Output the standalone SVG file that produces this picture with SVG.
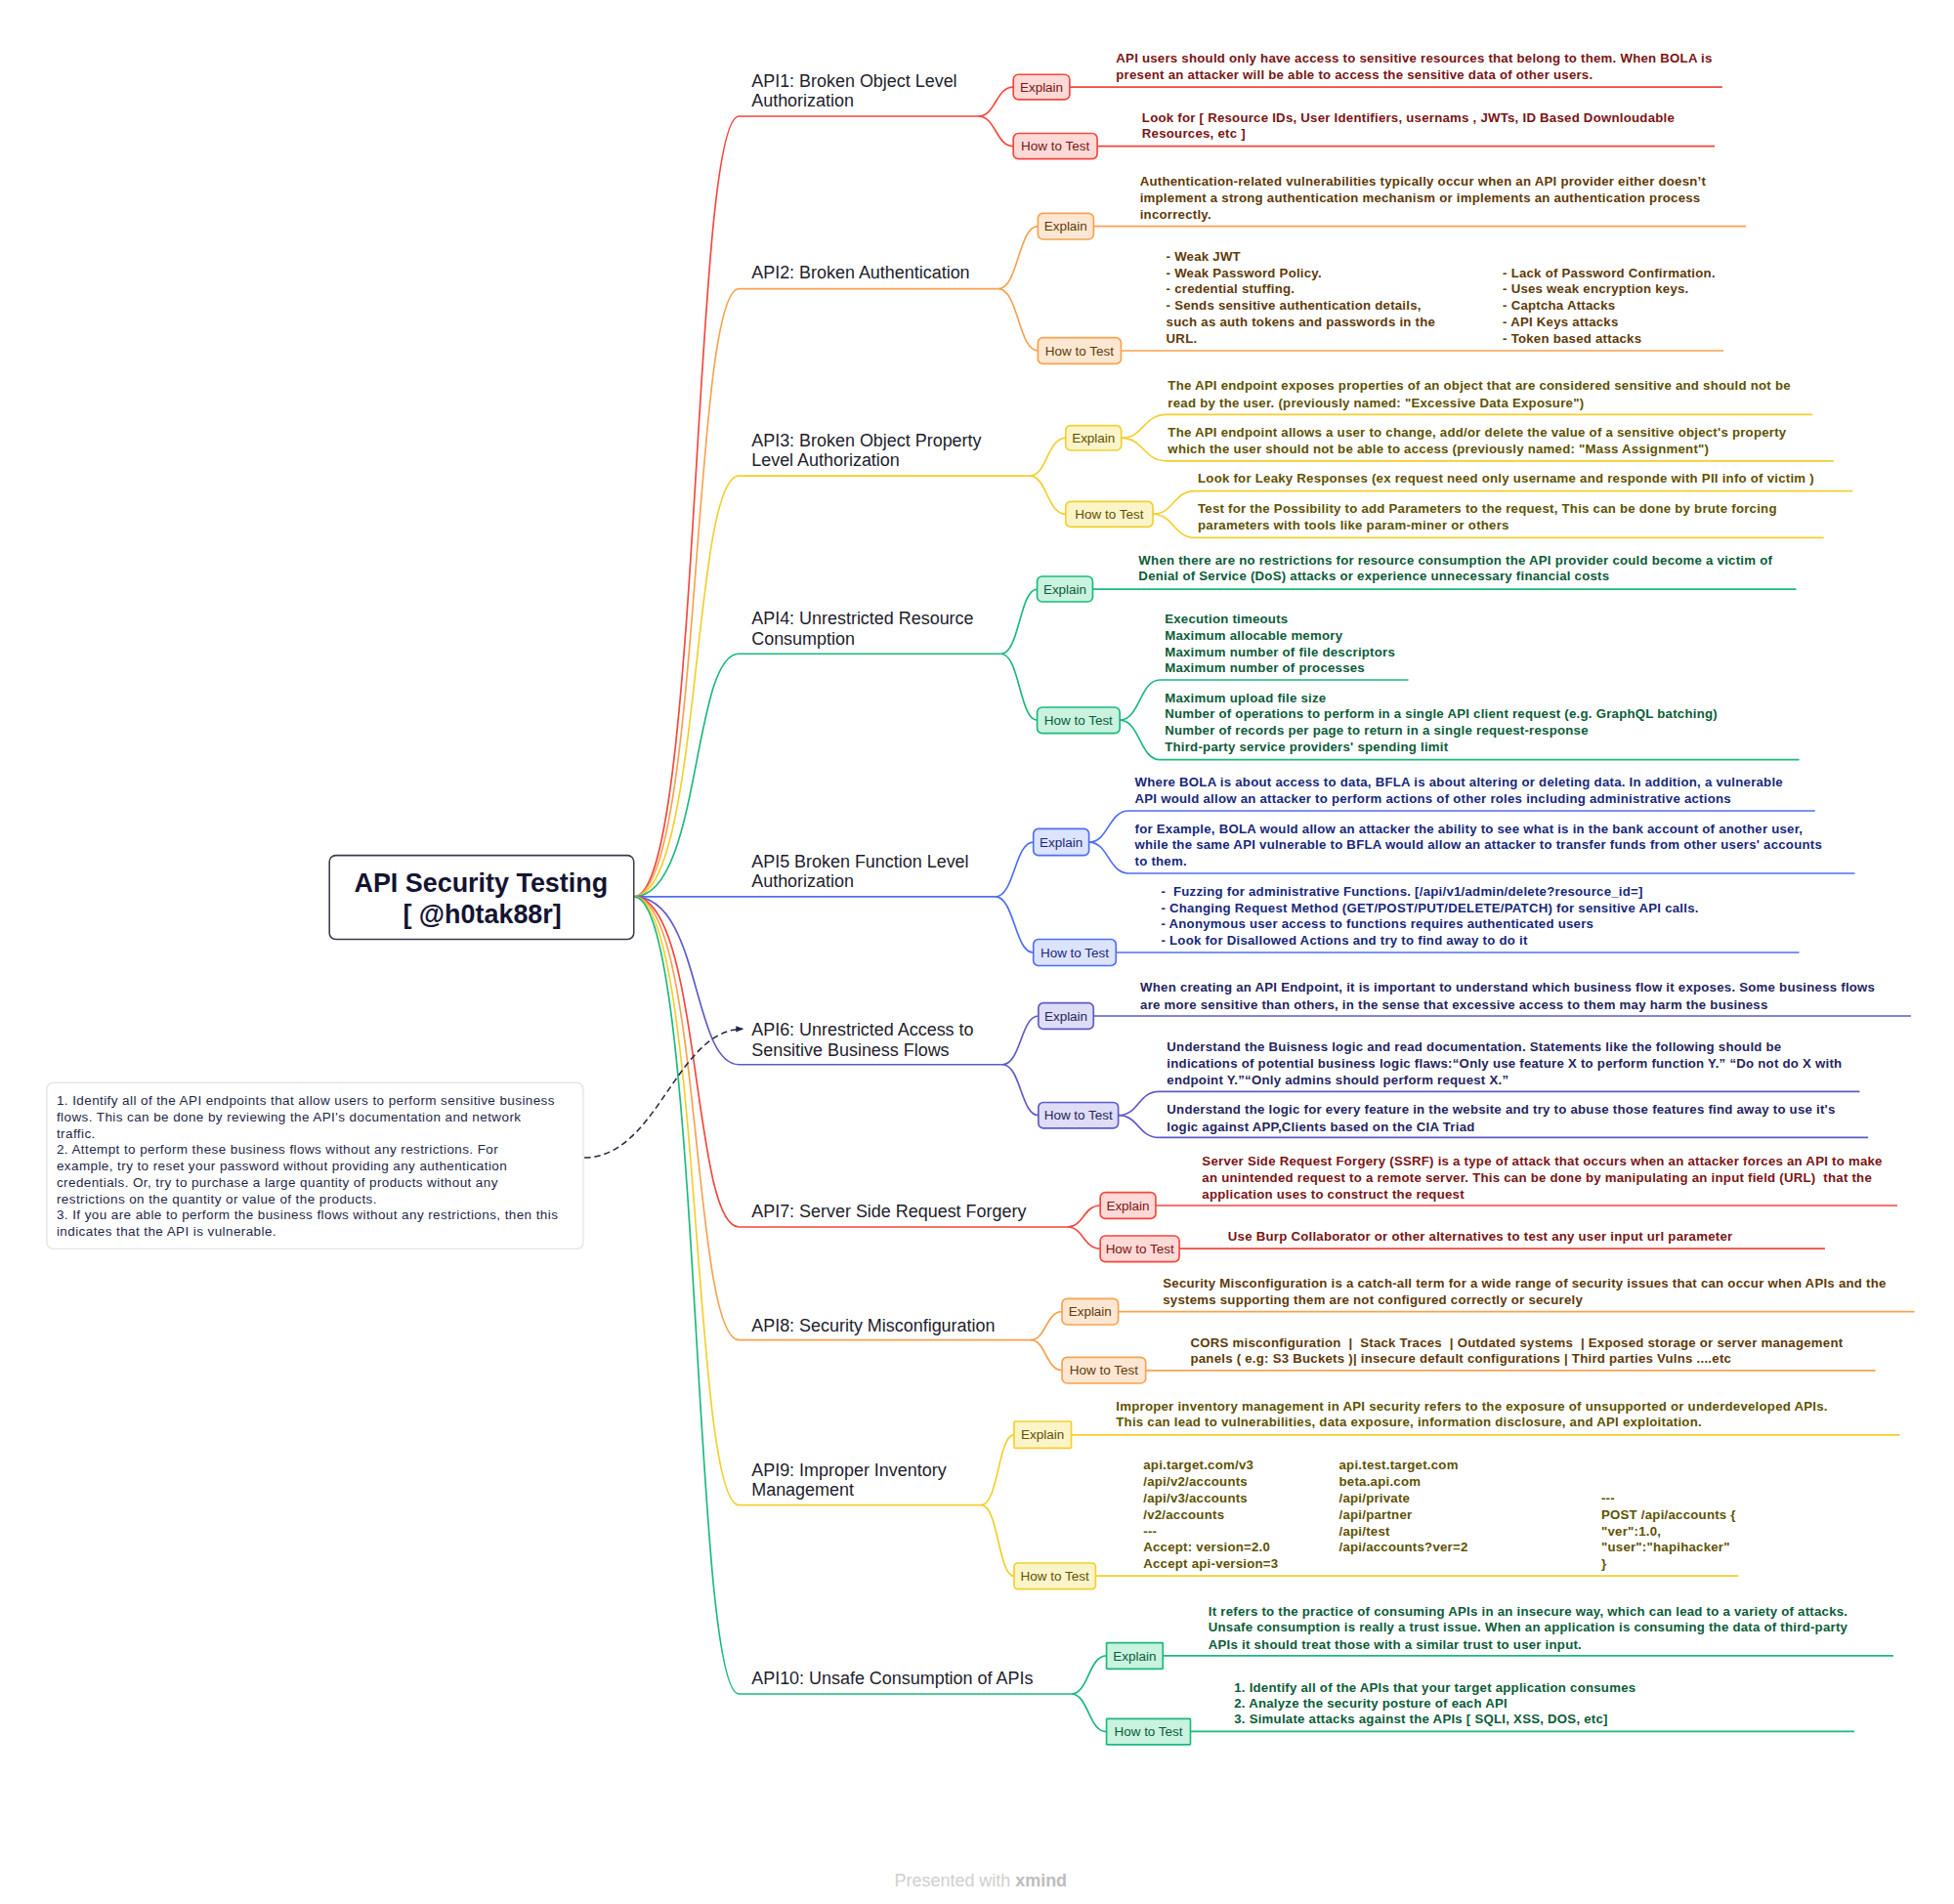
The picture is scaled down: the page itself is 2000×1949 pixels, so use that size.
<svg xmlns="http://www.w3.org/2000/svg" width="2000" height="1949" viewBox="0 0 2000 1949">
<style>
text{font-family:"Liberation Sans",Arial,sans-serif}
.ti{font-size:14px;fill:#1d1d2b}
.d{font-size:10.3px;font-weight:bold;letter-spacing:0.2px}
.nt{font-size:10.5px;fill:#1e2746;letter-spacing:0.33px}
.lb{font-size:10.5px;text-anchor:middle}
.ln{fill:none;stroke-width:1.3}
.bx{stroke-width:1.3}
.r{stroke:#F4473D}.o{stroke:#F7A24F}.y{stroke:#F3CF2C}.g{stroke:#1BB97C}.b{stroke:#4D6EF2}.v{stroke:#5D5BC9}
.rf{fill:#FFD9D6}.of{fill:#FEE7D2}.yf{fill:#FCF4C9}.gf{fill:#C9F2DF}.bf{fill:#DCE3FC}.vf{fill:#DEDDF5}
.rt{fill:#7A1414}.ot{fill:#5E3A08}.yt{fill:#5E5200}.gt{fill:#0B5C38}.bt{fill:#17287A}.vt{fill:#25255C}
</style>
<defs>
<marker id="arr" viewBox="0 0 10 10" refX="9" refY="5" markerWidth="6" markerHeight="6" orient="auto" markerUnits="userSpaceOnUse">
<path d="M0,1 L10,5 L0,9 z" fill="#1e2746"/>
</marker>
</defs>
<rect width="2000" height="1949" fill="#ffffff"/>
<g transform="scale(1.28205)">
<g id="connectors">
<path class="ln r" d="M506 716 C560 716 552 92.8 590 92.8 L781 92.8"/>
<path class="ln o" d="M506 716 C560 716 552 230.6 590 230.6 L797 230.6"/>
<path class="ln y" d="M506 716 C560 716 552 380 590 380 L822 380"/>
<path class="ln g" d="M506 716 C560 716 552 522 590 522 L799.2 522"/>
<path class="ln b" d="M506 716 L794.5 716"/>
<path class="ln v" d="M506 716 C560 716 552 850 590 850 L800.3 850"/>
<path class="ln r" d="M506 716 C560 716 552 979.7 590 979.7 L852.2 979.7"/>
<path class="ln o" d="M506 716 C560 716 552 1069.9 590 1069.9 L822.9 1069.9"/>
<path class="ln y" d="M506 716 C560 716 552 1201.7 590 1201.7 L783.4 1201.7"/>
<path class="ln g" d="M506 716 C560 716 552 1352.5 590 1352.5 L855.3 1352.5"/>

<path class="ln r" d="M781 92.8 C795 92.8 795 69.5 809 69.5"/>
<path class="ln r" d="M781 92.8 C795 92.8 795 116.7 809 116.7"/>
<path class="ln r" d="M854 69.5 L1375 69.5"/>
<path class="ln r" d="M876 116.7 L1369 116.7"/>

<path class="ln o" d="M797 230.6 C813 230.6 813 180.7 828.6 180.7"/>
<path class="ln o" d="M797 230.6 C813 230.6 813 280 828.6 280"/>
<path class="ln o" d="M873 180.7 L1394 180.7"/>
<path class="ln o" d="M895 280 L1376 280"/>

<path class="ln y" d="M822 380 C836 380 836 349.7 850.8 349.7"/>
<path class="ln y" d="M822 380 C836 380 836 410.5 850.8 410.5"/>
<path class="ln y" d="M895.2 349.7 C913 349.7 913 331 931 331 L1447 331"/>
<path class="ln y" d="M895.2 349.7 C913 349.7 913 368 931 368 L1464 368"/>
<path class="ln y" d="M920.4 410.5 C937 410.5 937 392 954 392 L1479 392"/>
<path class="ln y" d="M920.4 410.5 C937 410.5 937 429.3 954 429.3 L1456 429.3"/>

<path class="ln g" d="M799.2 522 C814 522 814 470.4 828 470.4"/>
<path class="ln g" d="M799.2 522 C814 522 814 575 828 575"/>
<path class="ln g" d="M872.4 470.4 L1434 470.4"/>
<path class="ln g" d="M894 575 C910 575 910 542.9 926 542.9 L1124.4 542.9"/>
<path class="ln g" d="M894 575 C910 575 910 606.6 926 606.6 L1436.4 606.6"/>

<path class="ln b" d="M794.5 716 C810 716 810 672.4 825 672.4"/>
<path class="ln b" d="M794.5 716 C810 716 810 760.5 825 760.5"/>
<path class="ln b" d="M869.4 672.4 C885 672.4 885 647.4 901 647.4 L1449 647.4"/>
<path class="ln b" d="M869.4 672.4 C885 672.4 885 697.3 901 697.3 L1480.8 697.3"/>
<path class="ln b" d="M891 760.5 L1436.4 760.5"/>

<path class="ln v" d="M800.3 850 C815 850 815 811.2 829 811.2"/>
<path class="ln v" d="M800.3 850 C815 850 815 890.5 829 890.5"/>
<path class="ln v" d="M873 811.2 L1525.7 811.2"/>
<path class="ln v" d="M892.8 890.5 C909 890.5 909 871.5 925 871.5 L1484.7 871.5"/>
<path class="ln v" d="M892.8 890.5 C909 890.5 909 908.2 925 908.2 L1491.5 908.2"/>

<path class="ln r" d="M852.2 979.7 C865 979.7 865 962.5 878.4 962.5"/>
<path class="ln r" d="M852.2 979.7 C865 979.7 865 997 878.4 997"/>
<path class="ln r" d="M922.7 962.5 L1514.8 962.5"/>
<path class="ln r" d="M941.5 997 L1457 997"/>

<path class="ln o" d="M822.9 1069.9 C835 1069.9 835 1047.3 847.9 1047.3"/>
<path class="ln o" d="M822.9 1069.9 C835 1069.9 835 1094 847.9 1094"/>
<path class="ln o" d="M892.8 1047.3 L1528.4 1047.3"/>
<path class="ln o" d="M914.7 1094.3 L1497.2 1094.3"/>

<path class="ln y" d="M783.4 1201.7 C797 1201.7 797 1145.5 809.6 1145.5"/>
<path class="ln y" d="M783.4 1201.7 C797 1201.7 797 1258.4 809.6 1258.4"/>
<path class="ln y" d="M855.3 1145.7 L1516.6 1145.7"/>
<path class="ln y" d="M874.7 1258.2 L1387.9 1258.2"/>

<path class="ln g" d="M855.3 1352.5 C869 1352.5 869 1322 883.4 1322"/>
<path class="ln g" d="M855.3 1352.5 C869 1352.5 869 1382.6 883.4 1382.6"/>
<path class="ln g" d="M928.4 1322 L1511.6 1322"/>
<path class="ln g" d="M950.4 1382.5 L1480.5 1382.5"/>

<path d="M466.5 924.3 C525 924.3 540 821.6 593 821.6" fill="none" stroke="#1e2746" stroke-width="1.2" stroke-dasharray="5 3" marker-end="url(#arr)"/>
</g>

<g id="root">
<rect x="263" y="683" width="243" height="67" rx="5" fill="#ffffff" stroke="#3a3a4e" stroke-width="1.2"/>
<text x="384" y="712" font-size="21" font-weight="bold" fill="#141432" text-anchor="middle">API Security Testing</text>
<text x="385" y="737.5" font-size="21" font-weight="bold" fill="#141432" text-anchor="middle">[ @h0tak88r]</text>
</g>

<g id="note">
<rect x="37.4" y="864.5" width="428.2" height="132.6" rx="5" fill="#ffffff" stroke="#e3e3e6" stroke-width="1"/>
<text class="nt" x="45.2" y="882.3">
<tspan x="45.2">1. Identify all of the API endpoints that allow users to perform sensitive business</tspan>
<tspan x="45.2" dy="13.05">flows. This can be done by reviewing the API's documentation and network</tspan>
<tspan x="45.2" dy="13.05">traffic.</tspan>
<tspan x="45.2" dy="13.05">2. Attempt to perform these business flows without any restrictions. For</tspan>
<tspan x="45.2" dy="13.05">example, try to reset your password without providing any authentication</tspan>
<tspan x="45.2" dy="13.05">credentials. Or, try to purchase a large quantity of products without any</tspan>
<tspan x="45.2" dy="13.05">restrictions on the quantity or value of the products.</tspan>
<tspan x="45.2" dy="13.05">3. If you are able to perform the business flows without any restrictions, then this</tspan>
<tspan x="45.2" dy="13.05">indicates that the API is vulnerable.</tspan>
</text>
</g>

<g id="api1">
<text class="ti" x="600" y="69.2"><tspan x="600">API1: Broken Object Level</tspan><tspan x="600" dy="15.6">Authorization</tspan></text>
<g id="api1-explain"><rect class="bx r rf" x="809" y="59.5" width="45" height="20" rx="4"/><text class="lb rt" x="831.5" y="73.2">Explain</text></g>
<g id="api1-howto"><rect class="bx r rf" x="809" y="106.5" width="67" height="20.4" rx="4"/><text class="lb rt" x="842.5" y="120.4">How to Test</text></g>
<text class="d rt" x="891" y="50.3"><tspan x="891">API users should only have access to sensitive resources that belong to them. When BOLA is</tspan><tspan x="891" dy="13">present an attacker will be able to access the sensitive data of other users.</tspan></text>
<text class="d rt" x="911.7" y="97.6"><tspan x="911.7">Look for [ Resource IDs, User Identifiers, usernams , JWTs, ID Based Downloudable</tspan><tspan x="911.7" dy="12.5">Resources, etc ]</tspan></text>
</g>

<g id="api2">
<text class="ti" x="600" y="222.1">API2: Broken Authentication</text>
<g id="api2-explain"><rect class="bx o of" x="828.6" y="170.3" width="44.5" height="20.8" rx="4"/><text class="lb ot" x="850.8" y="184.4">Explain</text></g>
<g id="api2-howto"><rect class="bx o of" x="828.6" y="269.6" width="66.4" height="20.8" rx="4"/><text class="lb ot" x="861.8" y="283.7">How to Test</text></g>
<text class="d ot" x="910" y="148.3"><tspan x="910">Authentication-related vulnerabilities typically occur when an API provider either doesn’t</tspan><tspan x="910" dy="13.1">implement a strong authentication mechanism or implements an authentication process</tspan><tspan x="910" dy="13.1">incorrectly.</tspan></text>
<text class="d ot" x="931" y="208.1"><tspan x="931">- Weak JWT</tspan><tspan x="931" dy="13.1">- Weak Password Policy.</tspan><tspan x="931" dy="13.1">- credential stuffing.</tspan><tspan x="931" dy="13.1">- Sends sensitive authentication details,</tspan><tspan x="931" dy="13.1">such as auth tokens and passwords in the</tspan><tspan x="931" dy="13.1">URL.</tspan></text>
<text class="d ot" x="1199.7" y="221.2"><tspan x="1199.7">- Lack of Password Confirmation.</tspan><tspan x="1199.7" dy="13.1">- Uses weak encryption keys.</tspan><tspan x="1199.7" dy="13.1">- Captcha Attacks</tspan><tspan x="1199.7" dy="13.1">- API Keys attacks</tspan><tspan x="1199.7" dy="13.1">- Token based attacks</tspan></text>
</g>

<g id="api3">
<text class="ti" x="600" y="356.8"><tspan x="600">API3: Broken Object Property</tspan><tspan x="600" dy="15.3">Level Authorization</tspan></text>
<g id="api3-explain"><rect class="bx y yf" x="850.8" y="339.8" width="44.4" height="19.8" rx="4"/><text class="lb yt" x="873" y="353.4">Explain</text></g>
<g id="api3-howto"><rect class="bx y yf" x="850.8" y="400.4" width="69.6" height="20.3" rx="4"/><text class="lb yt" x="885.6" y="414.2">How to Test</text></g>
<text class="d yt" x="932.4" y="311.6"><tspan x="932.4">The API endpoint exposes properties of an object that are considered sensitive and should not be</tspan><tspan x="932.4" dy="13.5">read by the user. (previously named: "Excessive Data Exposure")</tspan></text>
<text class="d yt" x="932.4" y="348.5"><tspan x="932.4">The API endpoint allows a user to change, add/or delete the value of a sensitive object's property</tspan><tspan x="932.4" dy="13.8">which the user should not be able to access (previously named: "Mass Assignment")</tspan></text>
<text class="d yt" x="956.3" y="385.7">Look for Leaky Responses (ex request need only username and responde with PII info of victim )</text>
<text class="d yt" x="956.3" y="409.9"><tspan x="956.3">Test for the Possibility to add Parameters to the request, This can be done by brute forcing</tspan><tspan x="956.3" dy="13">parameters with tools like param-miner or others</tspan></text>
</g>

<g id="api4">
<text class="ti" x="600" y="498.5"><tspan x="600">API4: Unrestricted Resource</tspan><tspan x="600" dy="16.1">Consumption</tspan></text>
<g id="api4-explain"><rect class="bx g gf" x="828" y="460.2" width="44.4" height="20.3" rx="4"/><text class="lb gt" x="850.2" y="474.1">Explain</text></g>
<g id="api4-howto"><rect class="bx g gf" x="828" y="564.7" width="66" height="20.8" rx="4"/><text class="lb gt" x="861" y="578.8">How to Test</text></g>
<text class="d gt" x="909" y="450.7"><tspan x="909">When there are no restrictions for resource consumption the API provider could become a victim of</tspan><tspan x="909" dy="13">Denial of Service (DoS) attacks or experience unnecessary financial costs</tspan></text>
<text class="d gt" x="929.9" y="497.8"><tspan x="929.9">Execution timeouts</tspan><tspan x="929.9" dy="13">Maximum allocable memory</tspan><tspan x="929.9" dy="13">Maximum number of file descriptors</tspan><tspan x="929.9" dy="13">Maximum number of processes</tspan></text>
<text class="d gt" x="929.9" y="560.7"><tspan x="929.9">Maximum upload file size</tspan><tspan x="929.9" dy="13">Number of operations to perform in a single API client request (e.g. GraphQL batching)</tspan><tspan x="929.9" dy="13">Number of records per page to return in a single request-response</tspan><tspan x="929.9" dy="13">Third-party service providers' spending limit</tspan></text>
</g>

<g id="api5">
<text class="ti" x="600" y="692.7"><tspan x="600">API5 Broken Function Level</tspan><tspan x="600" dy="15.6">Authorization</tspan></text>
<g id="api5-explain"><rect class="bx b bf" x="825" y="661.7" width="44.4" height="21.3" rx="4"/><text class="lb bt" x="847.2" y="676.1">Explain</text></g>
<g id="api5-howto"><rect class="bx b bf" x="825" y="750" width="66" height="21" rx="4"/><text class="lb bt" x="858" y="764.2">How to Test</text></g>
<text class="d bt" x="906" y="628.3"><tspan x="906">Where BOLA is about access to data, BFLA is about altering or deleting data. In addition, a vulnerable</tspan><tspan x="906" dy="12.7">API would allow an attacker to perform actions of other roles including administrative actions</tspan></text>
<text class="d bt" x="906" y="665.2"><tspan x="906">for Example, BOLA would allow an attacker the ability to see what is in the bank account of another user,</tspan><tspan x="906" dy="13">while the same API vulnerable to BFLA would allow an attacker to transfer funds from other users' accounts</tspan><tspan x="906" dy="13">to them.</tspan></text>
<text class="d bt" x="927" y="715.1"><tspan x="927">-&#160; Fuzzing for administrative Functions. [/api/v1/admin/delete?resource_id=]</tspan><tspan x="927" dy="13.1">- Changing Request Method (GET/POST/PUT/DELETE/PATCH) for sensitive API calls.</tspan><tspan x="927" dy="13.1">- Anonymous user access to functions requires authenticated users</tspan><tspan x="927" dy="13.1">- Look for Disallowed Actions and try to find away to do it</tspan></text>
</g>

<g id="api6">
<text class="ti" x="600" y="826.6"><tspan x="600">API6: Unrestricted Access to</tspan><tspan x="600" dy="16.9">Sensitive Business Flows</tspan></text>
<g id="api6-explain"><rect class="bx v vf" x="829" y="800.8" width="44" height="20.8" rx="4"/><text class="lb vt" x="851" y="814.9">Explain</text></g>
<g id="api6-howto"><rect class="bx v vf" x="829" y="880.2" width="63.8" height="20.6" rx="4"/><text class="lb vt" x="860.9" y="894.2">How to Test</text></g>
<text class="d vt" x="910.3" y="792.1"><tspan x="910.3">When creating an API Endpoint, it is important to understand which business flow it exposes. Some business flows</tspan><tspan x="910.3" dy="13.5">are more sensitive than others, in the sense that excessive access to them may harm the business</tspan></text>
<text class="d vt" x="931.6" y="839.4"><tspan x="931.6">Understand the Buisness logic and read documentation. Statements like the following should be</tspan><tspan x="931.6" dy="13.3">indications of potential business logic flaws:“Only use feature X to perform function Y.” “Do not do X with</tspan><tspan x="931.6" dy="13.3">endpoint Y.”“Only admins should perform request X.”</tspan></text>
<text class="d vt" x="931.6" y="889.6"><tspan x="931.6">Understand the logic for every feature in the website and try to abuse those features find away to use it's</tspan><tspan x="931.6" dy="13.5">logic against APP,Clients based on the CIA Triad</tspan></text>
</g>

<g id="api7">
<text class="ti" x="600" y="972.2">API7: Server Side Request Forgery</text>
<g id="api7-explain"><rect class="bx r rf" x="878.4" y="952.1" width="44.3" height="20.8" rx="4"/><text class="lb rt" x="900.5" y="966.2">Explain</text></g>
<g id="api7-howto"><rect class="bx r rf" x="878.4" y="986.7" width="63.1" height="20.8" rx="4"/><text class="lb rt" x="910" y="1000.8">How to Test</text></g>
<text class="d rt" x="959.7" y="930.4"><tspan x="959.7">Server Side Request Forgery (SSRF) is a type of attack that occurs when an attacker forces an API to make</tspan><tspan x="959.7" dy="13.3">an unintended request to a remote server. This can be done by manipulating an input field (URL)&#160; that the</tspan><tspan x="959.7" dy="13.2">application uses to construct the request</tspan></text>
<text class="d rt" x="980.3" y="991">Use Burp Collaborator or other alternatives to test any user input url parameter</text>
</g>

<g id="api8">
<text class="ti" x="600" y="1063.2">API8: Security Misconfiguration</text>
<g id="api8-explain"><rect class="bx o of" x="847.9" y="1036.9" width="44.9" height="20.8" rx="4"/><text class="lb ot" x="870.3" y="1051">Explain</text></g>
<g id="api8-howto"><rect class="bx o of" x="847.9" y="1083.7" width="66.8" height="20.8" rx="4"/><text class="lb ot" x="881.3" y="1097.8">How to Test</text></g>
<text class="d ot" x="928.4" y="1028.4"><tspan x="928.4">Security Misconfiguration is a catch-all term for a wide range of security issues that can occur when APIs and the</tspan><tspan x="928.4" dy="13">systems supporting them are not configured correctly or securely</tspan></text>
<text class="d ot" x="950.4" y="1076" xml:space="preserve"><tspan x="950.4">CORS misconfiguration  |  Stack Traces  | Outdated systems  | Exposed storage or server management</tspan><tspan x="950.4" dy="12.5">panels ( e.g: S3 Buckets )| insecure default configurations | Third parties Vulns ....etc</tspan></text>
</g>

<g id="api9">
<text class="ti" x="600" y="1178.4"><tspan x="600">API9: Improper Inventory</tspan><tspan x="600" dy="15.6">Management</tspan></text>
<g id="api9-explain"><rect class="bx y yf" x="809.6" y="1134.9" width="45.7" height="21.3" rx="1"/><text class="lb yt" x="832.4" y="1149.3">Explain</text></g>
<g id="api9-howto"><rect class="bx y yf" x="809.6" y="1248" width="65.1" height="20.8" rx="3"/><text class="lb yt" x="842.1" y="1262.1">How to Test</text></g>
<text class="d yt" x="891" y="1126.7"><tspan x="891">Improper inventory management in API security refers to the exposure of unsupported or underdeveloped APIs.</tspan><tspan x="891" dy="12.5">This can lead to vulnerabilities, data exposure, information disclosure, and API exploitation.</tspan></text>
<text class="d yt" x="912.8" y="1173.5"><tspan x="912.8">api.target.com/v3</tspan><tspan x="912.8" dy="13.1">/api/v2/accounts</tspan><tspan x="912.8" dy="13.1">/api/v3/accounts</tspan><tspan x="912.8" dy="13.1">/v2/accounts</tspan><tspan x="912.8" dy="13.1">---</tspan><tspan x="912.8" dy="13.1">Accept: version=2.0</tspan><tspan x="912.8" dy="13.1">Accept api-version=3</tspan></text>
<text class="d yt" x="1069" y="1173.5"><tspan x="1069">api.test.target.com</tspan><tspan x="1069" dy="13.1">beta.api.com</tspan><tspan x="1069" dy="13.1">/api/private</tspan><tspan x="1069" dy="13.1">/api/partner</tspan><tspan x="1069" dy="13.1">/api/test</tspan><tspan x="1069" dy="13.1">/api/accounts?ver=2</tspan></text>
<text class="d yt" x="1278.4" y="1199.7"><tspan x="1278.4">---</tspan><tspan x="1278.4" dy="13.1">POST /api/accounts {</tspan><tspan x="1278.4" dy="13.1">"ver":1.0,</tspan><tspan x="1278.4" dy="13.1">"user":"hapihacker"</tspan><tspan x="1278.4" dy="13.1">}</tspan></text>
</g>

<g id="api10">
<text class="ti" x="600" y="1344.8">API10: Unsafe Consumption of APIs</text>
<g id="api10-explain"><rect class="bx g gf" x="883.4" y="1311.7" width="45" height="20.8" rx="0.5"/><text class="lb gt" x="905.9" y="1325.8">Explain</text></g>
<g id="api10-howto"><rect class="bx g gf" x="883.4" y="1372.3" width="67" height="20.7" rx="0.5"/><text class="lb gt" x="916.9" y="1386.4">How to Test</text></g>
<text class="d gt" x="964.7" y="1290"><tspan x="964.7">It refers to the practice of consuming APIs in an insecure way, which can lead to a variety of attacks.</tspan><tspan x="964.7" dy="13">Unsafe consumption is really a trust issue. When an application is consuming the data of third-party</tspan><tspan x="964.7" dy="13.5">APIs it should treat those with a similar trust to user input.</tspan></text>
<text class="d gt" x="985.3" y="1350.8"><tspan x="985.3">1. Identify all of the APIs that your target application consumes</tspan><tspan x="985.3" dy="12.5">2. Analyze the security posture of each API</tspan><tspan x="985.3" dy="13">3. Simulate attacks against the APIs [ SQLI, XSS, DOS, etc]</tspan></text>
</g>

<text x="783" y="1506" font-size="14" fill="#cfcfcf" text-anchor="middle">Presented with <tspan font-weight="bold" fill="#bdbdbd">xmind</tspan></text>
</g>
</svg>
